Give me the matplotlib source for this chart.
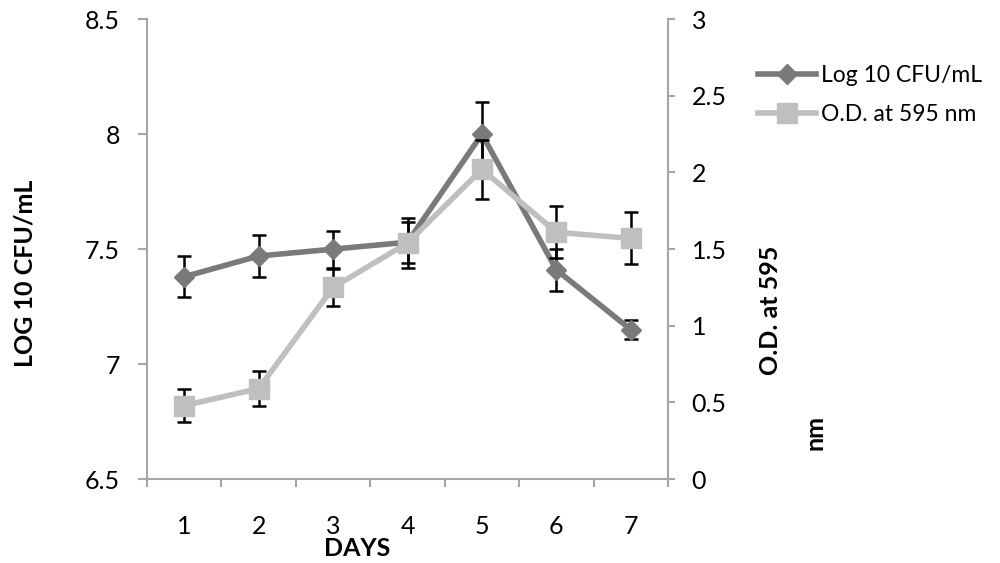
import numpy as np
import matplotlib
matplotlib.use('Agg')
import matplotlib.pyplot as plt
from matplotlib.lines import Line2D

plt.rcParams['font.family'] = ['Lato', 'DejaVu Sans']

days = [1, 2, 3, 4, 5, 6, 7]
cfu = [7.38, 7.47, 7.50, 7.53, 8.00, 7.41, 7.15]
cfu_err = [0.09, 0.09, 0.08, 0.09, 0.14, 0.09, 0.04]
od = [0.48, 0.59, 1.25, 1.54, 2.02, 1.61, 1.57]
od_err = [0.11, 0.115, 0.12, 0.16, 0.19, 0.17, 0.17]

dark = '#7a7a7a'
light = '#bfbfbf'
spine_c = '#a6a6a6'
fs = 18

fig = plt.figure(figsize=(10, 5.63), dpi=100)
ax = fig.add_axes([0.147, 0.149, 0.521, 0.817])
ax2 = ax.twinx()

ax.errorbar(days, cfu, yerr=cfu_err, color=dark, lw=4, marker='D', ms=10.5,
            ecolor='k', elinewidth=1.8, capsize=5, capthick=1.8)
ax2.errorbar(days, od, yerr=od_err, color=light, lw=4, marker='s', ms=14,
             ecolor='k', elinewidth=1.8, capsize=5, capthick=1.8)

ax.set_xlim(0.5, 7.5)
ax.set_ylim(6.5, 8.5)
ax2.set_ylim(0, 3)
ax.set_yticks(np.arange(6.5, 8.51, 0.5))
ax.set_yticklabels(['6.5', '7', '7.5', '8', '8.5'])
ax2.set_yticks(np.arange(0, 3.01, 0.5))
ax2.set_yticklabels(['0', '0.5', '1', '1.5', '2', '2.5', '3'])
ax.set_xticks(days)
ax.set_xticks(np.arange(0.5, 7.6, 1), minor=True)

for a in (ax, ax2):
    for s in a.spines.values():
        s.set_color(spine_c)
        s.set_linewidth(1.5)
    a.spines['top'].set_visible(False)
ax.spines['right'].set_visible(False)
ax2.spines['left'].set_visible(False)
ax2.spines['bottom'].set_visible(False)

ax.tick_params(axis='x', which='major', length=0, pad=26, labelsize=fs)
ax.tick_params(axis='x', which='minor', length=6, width=1.5, color=spine_c)
ax.tick_params(axis='y', length=6.5, width=1.5, color=spine_c, pad=13, labelsize=fs)
ax2.tick_params(axis='y', length=5, width=1.5, color=spine_c, pad=12, labelsize=fs)

fig.text(0.357, 1 - 549 / 563, 'DAYS', fontsize=fs, fontweight='bold', ha='center', va='center')
fig.text(0.025, 1 - 273 / 563, 'LOG 10 CFU/mL', fontsize=fs, fontweight='bold',
         rotation=90, ha='center', va='center')
fig.text(0.771, 1 - 310 / 563, 'O.D. at 595', fontsize=fs, fontweight='bold',
         rotation=90, ha='center', va='center')
fig.text(0.815, 1 - 433 / 563, 'nm', fontsize=fs, fontweight='bold',
         rotation=90, ha='center', va='center')

handles = [Line2D([], [], color=dark, lw=4, marker='D', ms=10.5),
           Line2D([], [], color=light, lw=4, marker='s', ms=14)]
fig.legend(handles, ['Log 10 CFU/mL', 'O.D. at 595 nm'], loc='upper left',
           bbox_to_anchor=(0.747, 0.905), frameon=False, fontsize=16.5,
           handlelength=2.5, handletextpad=0.25, labelspacing=0.8, borderpad=0)

fig.savefig('out.png', dpi=100)
